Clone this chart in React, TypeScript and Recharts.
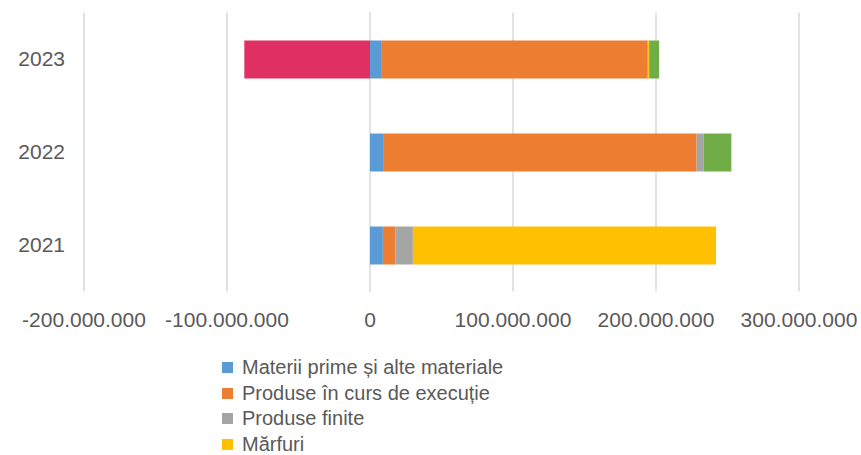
import { BarChart, Bar, XAxis, YAxis, CartesianGrid, Legend } from 'recharts';

const YEARS = ['2021', '2022', '2023'];
const MATERII = [9000000, 9700000, 8300000];
const PRODUCTIE = [8700000, 218700000, 185500000];
const FINITE = [12300000, 4900000, 700000];
const MARFURI = [212000000, 0, 700000];
const AMBALAJE = [0, 19400000, 7000000];
const AJUSTARI = [0, 0, -87900000];

const X_TICKS = [-200000000, -100000000, 0, 100000000, 200000000, 300000000];

const SERIES = [
  { key: 'materii', name: 'Materii prime și alte materiale', color: '#5B9BD5', values: MATERII },
  { key: 'productie', name: 'Produse în curs de execuție', color: '#ED7D31', values: PRODUCTIE },
  { key: 'finite', name: 'Produse finite', color: '#A5A5A5', values: FINITE },
  { key: 'marfuri', name: 'Mărfuri', color: '#FFC000', values: MARFURI },
  { key: 'ambalaje', name: 'Ambalaje', color: '#70AD47', values: AMBALAJE },
  { key: 'ajustari', name: 'Ajustări pentru depreciere', color: '#E03063', values: AJUSTARI },
];

// only the first four legend rows fit inside the picture
const LEGEND_ROWS = SERIES.slice(0, 4);

const data = YEARS.map((year, i) => {
  const row: Record<string, string | number> = { year };
  SERIES.forEach((s) => {
    row[s.key] = s.values[i];
  });
  return row;
});

const FONT = '"Liberation Sans", Arial, sans-serif';
const TEXT = '#595959';

const fmt = (v: number) => {
  if (v === 0) return '0';
  const sign = v < 0 ? '-' : '';
  return sign + Math.abs(v).toString().replace(/\B(?=(\d{3})+(?!\d))/g, '.');
};

function LegendList() {
  return (
    <div style={{ fontFamily: FONT, fontSize: 20, color: TEXT }}>
      {LEGEND_ROWS.map((s) => (
        <div key={s.key} style={{ display: 'flex', alignItems: 'center', height: 25.5 }}>
          <span style={{ width: 11, height: 11, background: s.color, marginRight: 9, flex: 'none' }} />
          <span style={{ whiteSpace: 'nowrap' }}>{s.name}</span>
        </div>
      ))}
    </div>
  );
}

export default function App() {
  return (
    <div style={{ width: 861, height: 455, overflow: 'hidden', background: '#fff' }}>
      <style>{'body{margin:0}'}</style>
      <BarChart
        width={861}
        height={455}
        data={data}
        layout="vertical"
        stackOffset="sign"
        margin={{ top: 12.5, right: 62, left: 0, bottom: 123.5 }}
      >
        <CartesianGrid horizontal={false} stroke="#d9d9d9" strokeWidth={1.5} />
        <XAxis
          type="number"
          domain={[-200000000, 300000000]}
          ticks={X_TICKS}
          tickFormatter={fmt}
          axisLine={false}
          tickLine={false}
          tickMargin={15}
          height={40}
          interval={0}
          tick={{ fill: TEXT, fontSize: 21, fontFamily: FONT }}
        />
        <YAxis
          type="category"
          dataKey="year"
          reversed
          width={84}
          axisLine={false}
          tickLine={false}
          tickMargin={13}
          tick={{ fill: TEXT, fontSize: 21, fontFamily: FONT }}
        />
        {SERIES.map((s) => (
          <Bar
            key={s.key}
            dataKey={s.key}
            name={s.name}
            stackId="a"
            fill={s.color}
            barSize={38}
            isAnimationActive={false}
          />
        ))}
        <Legend
          layout="horizontal"
          align="center"
          verticalAlign="middle"
          wrapperStyle={{ left: 222, top: 355, width: 500 }}
          content={() => <LegendList />}
        />
      </BarChart>
    </div>
  );
}
